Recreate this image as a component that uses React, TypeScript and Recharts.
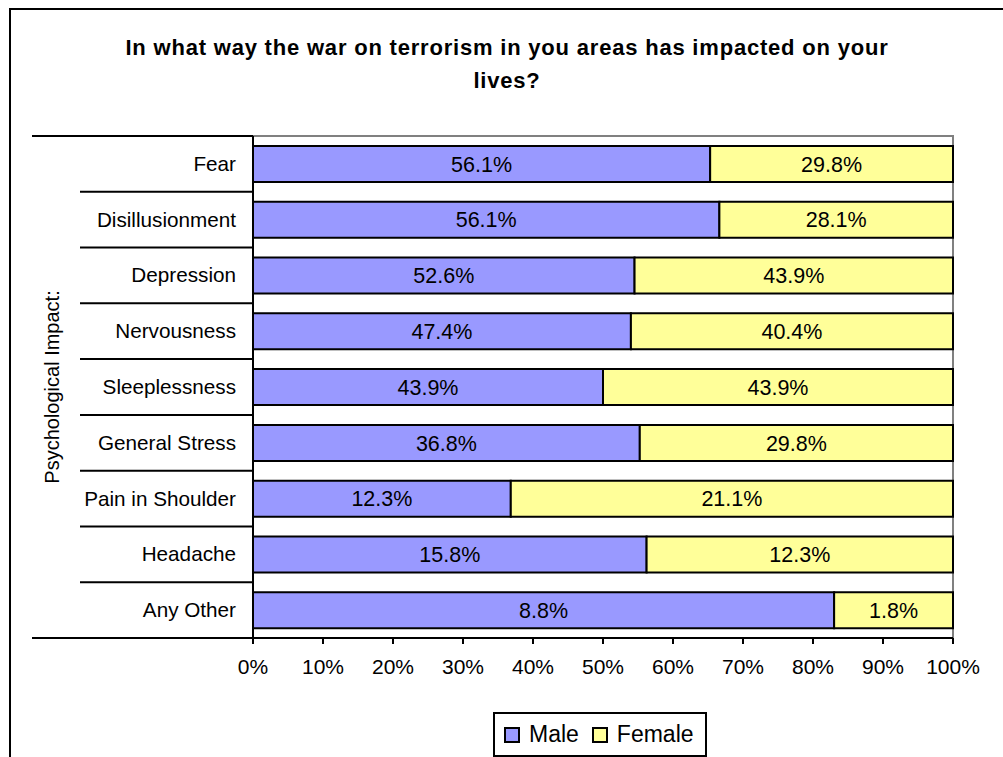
import { BarChart, Bar, XAxis, YAxis, ReferenceArea, LabelList, Label } from 'recharts';

const categories = ['Fear', 'Disillusionment', 'Depression', 'Nervousness', 'Sleeplessness', 'General Stress', 'Pain in Shoulder', 'Headache', 'Any Other'];
const maleValues = [56.1, 56.1, 52.6, 47.4, 43.9, 36.8, 12.3, 15.8, 8.8];
const femaleValues = [29.8, 28.1, 43.9, 40.4, 43.9, 29.8, 21.1, 12.3, 1.8];
const xTicks = [0, 0.1, 0.2, 0.3, 0.4, 0.5, 0.6, 0.7, 0.8, 0.9, 1];
const series = [
  { key: 'male', name: 'Male', color: '#9999FF' },
  { key: 'female', name: 'Female', color: '#FFFF99' },
];

const data = categories.map((name, i) => ({ name, male: maleValues[i], female: femaleValues[i] }));

const W = 1003;
const H = 757;
const PLOT_LEFT = 253;
const PLOT_TOP = 136;
const PLOT_BOTTOM = 638;
const BAND = (PLOT_BOTTOM - PLOT_TOP) / categories.length;
const FONT = 'Arial, "Liberation Sans", sans-serif';

function CategoryTick(props: any) {
  const { y, payload, index } = props;
  const top = y - BAND / 2;
  return (
    <g>
      <line x1={index === 0 ? 32 : 80} x2={PLOT_LEFT} y1={top} y2={top} stroke="#000" strokeWidth={2} />
      {index === categories.length - 1 && (
        <line x1={32} x2={PLOT_LEFT} y1={top + BAND} y2={top + BAND} stroke="#000" strokeWidth={2} />
      )}
      <text x={236} y={y} dy={7} textAnchor="end" fontSize={20.7} fontFamily={FONT} fill="#000">
        {payload.value}
      </text>
    </g>
  );
}

export default function App() {
  return (
    <div style={{ position: 'absolute', left: 0, top: 0, width: W, height: H, overflow: 'hidden', background: '#fff' }}>
      <div style={{ position: 'absolute', left: 9, top: 8, width: 1020, height: 780, border: '2px solid #000' }} />
      <div
        style={{
          position: 'absolute', left: 57, top: 31, width: 900, textAlign: 'center',
          fontFamily: FONT, fontWeight: 'bold', fontSize: 22, letterSpacing: 0.8, lineHeight: '33px', color: '#000',
        }}
      >
        In what way the war on terrorism in you areas has impacted on your<br />lives?
      </div>
      <div style={{ position: 'absolute', left: 0, top: 0 }}>
        <BarChart
          width={W}
          height={H}
          data={data}
          layout="vertical"
          stackOffset="expand"
          barSize={36}
          margin={{ top: PLOT_TOP, right: 50, bottom: H - PLOT_BOTTOM - 30, left: 0 }}
        >
          <ReferenceArea x1={0} x2={1} fill="none" stroke="#808080" strokeWidth={2} ifOverflow="visible" />
          <XAxis
            type="number"
            domain={[0, 1]}
            ticks={xTicks}
            height={30}
            tickFormatter={(v: number) => `${Math.round(v * 100)}%`}
            tick={{ fontSize: 21, fontFamily: FONT, fill: '#000' }}
            tickLine={{ stroke: '#000', strokeWidth: 2 }}
            axisLine={{ stroke: '#000', strokeWidth: 2 }}
            tickSize={6}
            tickMargin={15}
          />
          <YAxis
            type="category"
            dataKey="name"
            width={PLOT_LEFT}
            tick={<CategoryTick />}
            tickLine={false}
            axisLine={{ stroke: '#000', strokeWidth: 2 }}
            interval={0}
          >
            <Label
              value="Psychological Impact:"
              angle={-90}
              position="insideLeft"
              offset={52}
              style={{ fontSize: 20, fontFamily: FONT, fill: '#000', textAnchor: 'middle' }}
            />
          </YAxis>
          {series.map((s) => (
            <Bar key={s.key} dataKey={s.key} name={s.name} stackId="a" fill={s.color} stroke="#000" strokeWidth={2} isAnimationActive={false}>
              <LabelList
                dataKey={s.key}
                position="center"
                formatter={(v: any) => `${Number(v).toFixed(1)}%`}
                style={{ fontSize: 21.5, fontFamily: FONT, fill: '#000' }}
              />
            </Bar>
          ))}
        </BarChart>
      </div>
      <div
        style={{
          position: 'absolute', left: 493, top: 712, width: 210, height: 41, border: '2px solid #000',
          display: 'flex', alignItems: 'center', fontFamily: FONT, fontSize: 23, color: '#000', boxSizing: 'content-box',
        }}
      >
        {series.map((s, i) => (
          <div key={s.key} style={{ display: 'flex', alignItems: 'center', marginLeft: i === 0 ? 9 : 13 }}>
            <span style={{ width: 12, height: 12, background: s.color, border: '2px solid #000', display: 'inline-block', marginRight: 9 }} />
            <span>{s.name}</span>
          </div>
        ))}
      </div>
    </div>
  );
}
